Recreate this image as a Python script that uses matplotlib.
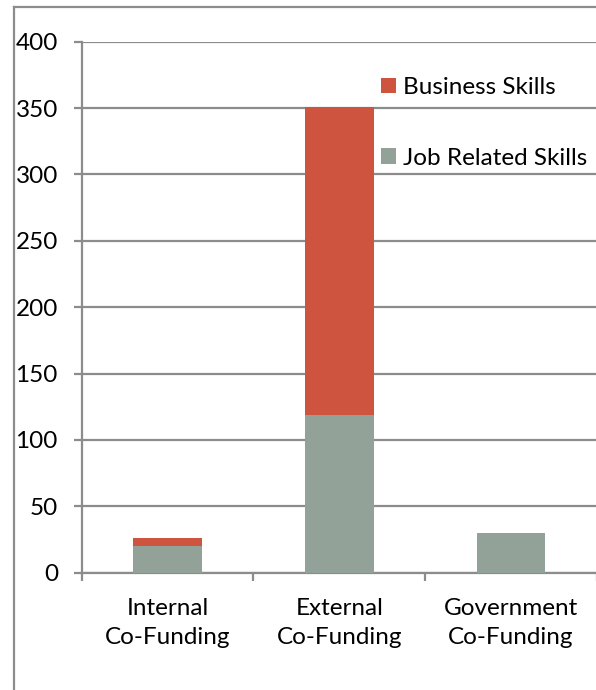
import matplotlib
matplotlib.use("Agg")
import matplotlib.pyplot as plt
from matplotlib.lines import Line2D

# datos
categories = ["Internal\nCo-Funding", "External\nCo-Funding", "Government\nCo-Funding"]
job_related = [20, 119, 30]
business = [6, 232, 0]
y_ticks = [0, 50, 100, 150, 200, 250, 300, 350, 400]

green = "#93A299"
red = "#CF543F"
grid_gray = "#8C8C8C"

plt.rcParams["font.family"] = ["Lato", "DejaVu Sans"]
fs = 17.5

fig = plt.figure(figsize=(5.96, 6.90), dpi=100)
ax = fig.add_axes([81.5 / 596, 117.3 / 690, 515.5 / 596, 531 / 690])

x = range(len(categories))
ax.bar(x, job_related, width=0.4, color=green, label="Job Related Skills", zorder=3)
ax.bar(x, business, width=0.4, bottom=job_related, color=red, label="Business Skills", zorder=3)

ax.set_xlim(-0.5, len(categories) - 0.5)
ax.set_ylim(0, 400)
ax.set_yticks(y_ticks)
ax.yaxis.grid(True, color=grid_gray, linewidth=1.6, zorder=0)

# ejes
for side in ["top", "right"]:
    ax.spines[side].set_visible(False)
for side in ["left", "bottom"]:
    ax.spines[side].set_color(grid_gray)
    ax.spines[side].set_linewidth(1.6)

ax.set_xticks(list(x))
ax.set_xticklabels(categories, fontsize=fs, linespacing=1.5)
ax.set_xticks([-0.5, 0.5, 1.5, 2.5], minor=True)
ax.tick_params(axis="x", which="major", length=0, pad=18)
ax.tick_params(axis="x", which="minor", length=6, width=1.6, color=grid_gray, direction="out")
ax.tick_params(axis="y", length=6, width=1.6, color=grid_gray, pad=11, labelsize=fs)

# leyenda (Business arriba)
handles, labels = ax.get_legend_handles_labels()
leg = fig.legend(handles[::-1], labels[::-1], loc="upper left",
                 bbox_to_anchor=(381 / 596, 1 - 77 / 690), frameon=False,
                 fontsize=fs, handlelength=0.62, handleheight=0.62,
                 handletextpad=0.28, labelspacing=2.05, borderpad=0, borderaxespad=0)

# marco del grafico
fig.add_artist(Line2D([13.5 / 596, 13.5 / 596], [0, 1 - 6.5 / 690],
                      transform=fig.transFigure, color=grid_gray, linewidth=1.6))
fig.add_artist(Line2D([13.5 / 596, 1], [1 - 6.5 / 690, 1 - 6.5 / 690],
                      transform=fig.transFigure, color=grid_gray, linewidth=1.6))

fig.savefig("out.png", dpi=100)
